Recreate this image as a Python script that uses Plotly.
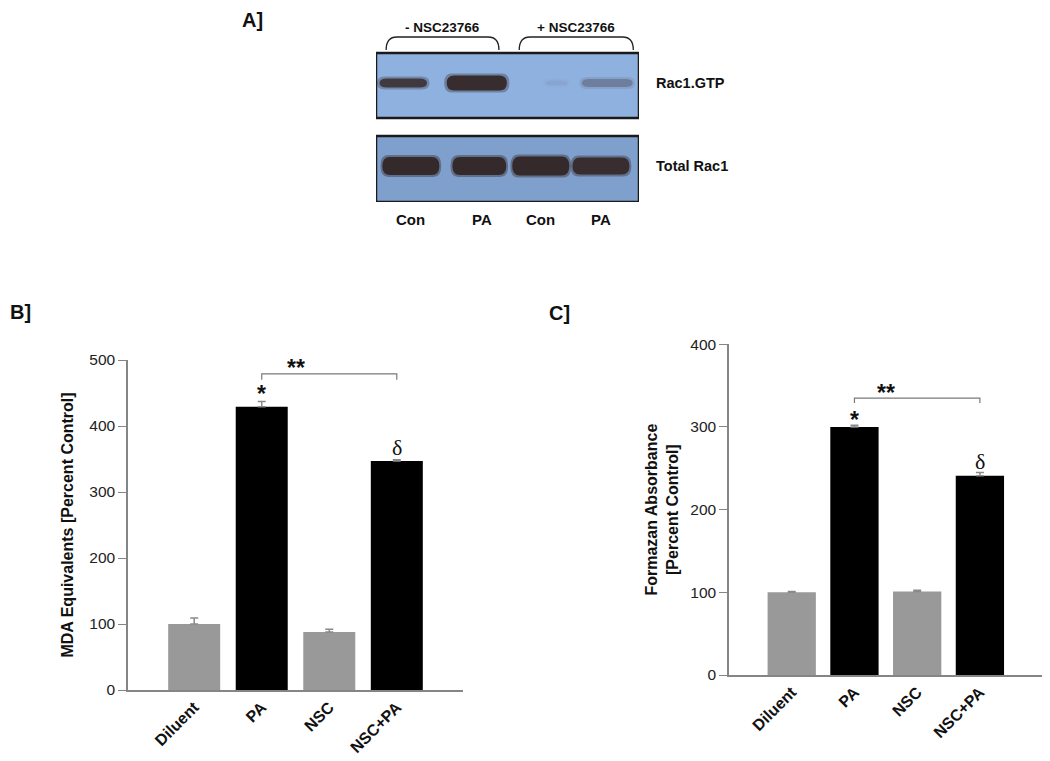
import plotly.graph_objects as go

# ---------------- data ----------------
CATEGORIES = ["Diluent", "PA", "NSC", "NSC+PA"]
MDA_VALUES = [100, 429, 88, 347]
MDA_ERRORS = [9, 8, 4, 2]
FORMAZAN_VALUES = [100, 300, 101, 241]
FORMAZAN_ERRORS = [1, 2, 1.5, 4]

LANE_LABELS = ["Con", "PA", "Con", "PA"]
GROUP_LABELS = ["- NSC23766", "+ NSC23766"]
ROW_LABELS = ["Rac1.GTP", "Total Rac1"]
RAC1_GTP_INTENSITY = [0.85, 1.0, 0.06, 0.3]
TOTAL_RAC1_INTENSITY = [1.0, 1.0, 1.0, 0.95]

# ---------------- styles ----------------
FONT = "Arial, Liberation Sans, sans-serif"
BAR_COLORS = ["#999999", "#000000", "#999999", "#000000"]
AXIS_GREY = "#858585"
W, H = 1050, 761
PAGE_OFFSET = 8  # the page body adds an 8px margin around the figure

def px_x(p):
    return (p - PAGE_OFFSET) / W

def px_y(p):
    return 1 - (p - PAGE_OFFSET) / H

fig = go.Figure()

# ---------------- panels B and C (bar charts) ----------------
fig.add_trace(go.Bar(
    x=CATEGORIES, y=MDA_VALUES, marker=dict(color=BAR_COLORS, line=dict(width=0)),
    width=0.77,
    error_y=dict(type="data", array=MDA_ERRORS, arrayminus=[0] * 4, symmetric=False,
                 color="#8a8a8a", thickness=1.5, width=4),
    xaxis="x", yaxis="y", showlegend=False))
fig.add_trace(go.Bar(
    x=CATEGORIES, y=FORMAZAN_VALUES, marker=dict(color=BAR_COLORS, line=dict(width=0)),
    width=0.77,
    error_y=dict(type="data", array=FORMAZAN_ERRORS, arrayminus=[0] * 4, symmetric=False,
                 color="#8a8a8a", thickness=1.5, width=4),
    xaxis="x2", yaxis="y2", showlegend=False))

tickfont = dict(family=FONT, size=15.5, color="#222222")
catfont = dict(family=FONT, size=16, color="#111111", weight="bold")
title_font = dict(family=FONT, size=16, color="#111111")

common_x = dict(type="category", showline=True, linecolor=AXIS_GREY, linewidth=1.5,
                ticks="", tickangle=-45, tickfont=catfont, showgrid=False, zeroline=False,
                automargin=False)
common_y = dict(showline=True, linecolor=AXIS_GREY, linewidth=1.5, ticks="outside",
                ticklen=8, tickcolor=AXIS_GREY, tickwidth=1.2, tickfont=tickfont,
                showgrid=False, zeroline=False, dtick=100, automargin=False)

fig.update_layout(
    xaxis=dict(domain=[px_x(128), px_x(463)], range=[-0.98, 3.98], anchor="y", **common_x),
    yaxis=dict(domain=[px_y(690), px_y(360)], range=[0, 500], anchor="x",
               title=dict(text="<b>MDA Equivalents [Percent Control]</b>", font=title_font,
                          standoff=12),
               **common_y),
    xaxis2=dict(domain=[px_x(729), px_x(1042)], range=[-1.0, 3.99], anchor="y2", **common_x),
    yaxis2=dict(domain=[px_y(675), px_y(344.3)], range=[0, 400], anchor="x2",
                title=dict(text="<b>Formazan Absorbance<br>[Percent Control]</b>",
                           font=title_font, standoff=8),
                **common_y),
)

# significance brackets and markers
def add_sig(xref, yref, values, errors, bracket_y, tick_drop, star_off, delta_off, star2_off):
    fig.add_shape(type="path", xref=xref, yref=yref,
                  path=f"M 1,{bracket_y - tick_drop} L 1,{bracket_y} L 3,{bracket_y} L 3,{bracket_y - tick_drop}",
                  line=dict(color="#7a7a7a", width=1.2))
    fig.add_annotation(x=1.5, y=bracket_y + star2_off, xref=xref, yref=yref, text="<b>**</b>",
                       showarrow=False, font=dict(family=FONT, size=23, color="#111111"))
    fig.add_annotation(x=1, y=values[1] + errors[1] + star_off, xref=xref, yref=yref,
                       text="<b>*</b>", showarrow=False,
                       font=dict(family=FONT, size=23, color="#111111"))
    fig.add_annotation(x=3, y=values[3] + errors[3] + delta_off, xref=xref, yref=yref,
                       text="δ", showarrow=False,
                       font=dict(family="Liberation Serif, Times New Roman, serif", size=22,
                                 color="#111111"))

add_sig("x", "y", MDA_VALUES, MDA_ERRORS, 479, 9, 11, 18, 9)
add_sig("x2", "y2", FORMAZAN_VALUES, FORMAZAN_ERRORS, 335, 6, 7, 13, 6)

# ---------------- panel A (western blot) ----------------
# lane axis: x3 in lane units, y3 in pixel-like units from bottom of blot
LANE_X = [1.0, 2.08, 3.05, 4.0]
TOP_BAND_SHIFT = [-0.12, -0.04, 0.25, 0.1]
TOP_BAND_W = [0.75, 0.95, 0.35, 0.8]
TOP_BAND_H = [9, 15, 5, 8]
BOT_BAND_W = [0.9, 0.85, 0.9, 0.9]
BOT_BAND_H = [18, 18, 19, 17]
TOP_BOX = (0.45, 84, 4.6, 149)
BOT_BOX = (0.45, 0, 4.6, 66)
TOP_BAND_Y = 119
BOT_BAND_Y = 36
X3_DOMAIN = [px_x(376), px_x(639)]
X3_RANGE = [0.45, 4.6]
Y3_BOTTOM_PX = 202

def lane_to_paper(u):
    return X3_DOMAIN[0] + (u - X3_RANGE[0]) / (X3_RANGE[1] - X3_RANGE[0]) * (X3_DOMAIN[1] - X3_DOMAIN[0])

fig.update_layout(
    xaxis3=dict(domain=X3_DOMAIN, range=X3_RANGE, visible=False,
                anchor="y3", fixedrange=True, automargin=False),
    yaxis3=dict(domain=[px_y(Y3_BOTTOM_PX), px_y(28)], range=[0, 174], visible=False,
                anchor="x3", fixedrange=True, automargin=False),
)

# invisible trace so the blot subplot exists
fig.add_trace(go.Scatter(x=LANE_X, y=[BOT_BAND_Y] * 4, mode="markers",
                         marker=dict(size=1, opacity=0), xaxis="x3", yaxis="y3",
                         showlegend=False, hoverinfo="skip"))

for (x0, y0, x1, y1), bg in [(TOP_BOX, "#8fb1df"), (BOT_BOX, "#7f9fcc")]:
    fig.add_shape(type="rect", xref="x3", yref="y3", x0=x0, y0=y0, x1=x1, y1=y1,
                  fillcolor=bg, line=dict(color="#1a1a1a", width=2.5), layer="below")

def rounded_band(cx, cy, w, h):
    # stadium-shaped band, w in lane units, h in y3 units
    x0, x1 = cx - w / 2, cx + w / 2
    y0, y1 = cy - h / 2, cy + h / 2
    r = 0.12
    return (f"M {x0 + r},{y0} L {x1 - r},{y0} Q {x1},{y0} {x1},{cy} "
            f"Q {x1},{y1} {x1 - r},{y1} L {x0 + r},{y1} Q {x0},{y1} {x0},{cy} "
            f"Q {x0},{y0} {x0 + r},{y0} Z")

band_color = "rgba(52,40,40,{a})"
for i, inten in enumerate(RAC1_GTP_INTENSITY):
    cx = LANE_X[i] + TOP_BAND_SHIFT[i]
    fig.add_shape(type="path", xref="x3", yref="y3",
                  path=rounded_band(cx, TOP_BAND_Y, TOP_BAND_W[i] + 0.08, TOP_BAND_H[i] + 4),
                  fillcolor=band_color.format(a=round(0.35 * inten, 3)), line=dict(width=0))
    fig.add_shape(type="path", xref="x3", yref="y3",
                  path=rounded_band(cx, TOP_BAND_Y, TOP_BAND_W[i], TOP_BAND_H[i]),
                  fillcolor=band_color.format(a=round(0.95 * inten, 3)), line=dict(width=0))
for i, inten in enumerate(TOTAL_RAC1_INTENSITY):
    cx = LANE_X[i]
    fig.add_shape(type="path", xref="x3", yref="y3",
                  path=rounded_band(cx, BOT_BAND_Y, BOT_BAND_W[i] + 0.06, BOT_BAND_H[i] + 4),
                  fillcolor=band_color.format(a=round(0.4 * inten, 3)), line=dict(width=0))
    fig.add_shape(type="path", xref="x3", yref="y3",
                  path=rounded_band(cx, BOT_BAND_Y, BOT_BAND_W[i], BOT_BAND_H[i]),
                  fillcolor=band_color.format(a=round(0.97 * inten, 3)), line=dict(width=0))

# group brackets
for (gx0, gx1), label in zip([(0.61, 2.39), (2.71, 4.51)], GROUP_LABELS):
    r = 0.17
    fig.add_shape(type="path", xref="x3", yref="y3",
                  path=(f"M {gx0},152 Q {gx0},165 {gx0 + r},165 L {gx1 - r},165 "
                        f"Q {gx1},165 {gx1},152"),
                  line=dict(color="#222222", width=1.3))
    fig.add_annotation(x=lane_to_paper((gx0 + gx1) / 2), y=px_y(27), xref="paper", yref="paper",
                       xanchor="center", yanchor="middle",
                       text=f"<b>{label}</b>", showarrow=False,
                       font=dict(family=FONT, size=13.5, color="#111111"))

# lane labels
for i, lab in enumerate(LANE_LABELS):
    fig.add_annotation(x=lane_to_paper(LANE_X[i] + (0.05 if i == 1 else 0)), y=px_y(219),
                       xref="paper", yref="paper", xanchor="center", yanchor="middle",
                       text=f"<b>{lab}</b>", showarrow=False,
                       font=dict(family=FONT, size=15, color="#111111"))

# row labels
for lab, yy in zip(ROW_LABELS, [TOP_BAND_Y, BOT_BAND_Y]):
    fig.add_annotation(x=px_x(654), y=px_y(Y3_BOTTOM_PX - yy), xref="paper", yref="paper",
                       xanchor="left", yanchor="middle", text=f"<b>{lab}</b>", showarrow=False,
                       font=dict(family=FONT, size=14.5, color="#111111"))

# panel letters
for lab, (xx, yy) in zip(["A]", "B]", "C]"], [(252, 20), (20, 312), (559, 313)]):
    fig.add_annotation(x=px_x(xx), y=px_y(yy), xref="paper", yref="paper",
                       xanchor="center", yanchor="middle",
                       text=f"<b>{lab}</b>", showarrow=False,
                       font=dict(family=FONT, size=20, color="#111111"))

fig.update_layout(
    width=W, height=H, margin=dict(l=0, r=0, t=0, b=0, autoexpand=False),
    paper_bgcolor="white", plot_bgcolor="white", bargap=0.23,
    font=dict(family=FONT),
)

fig.write_html("out.html")
